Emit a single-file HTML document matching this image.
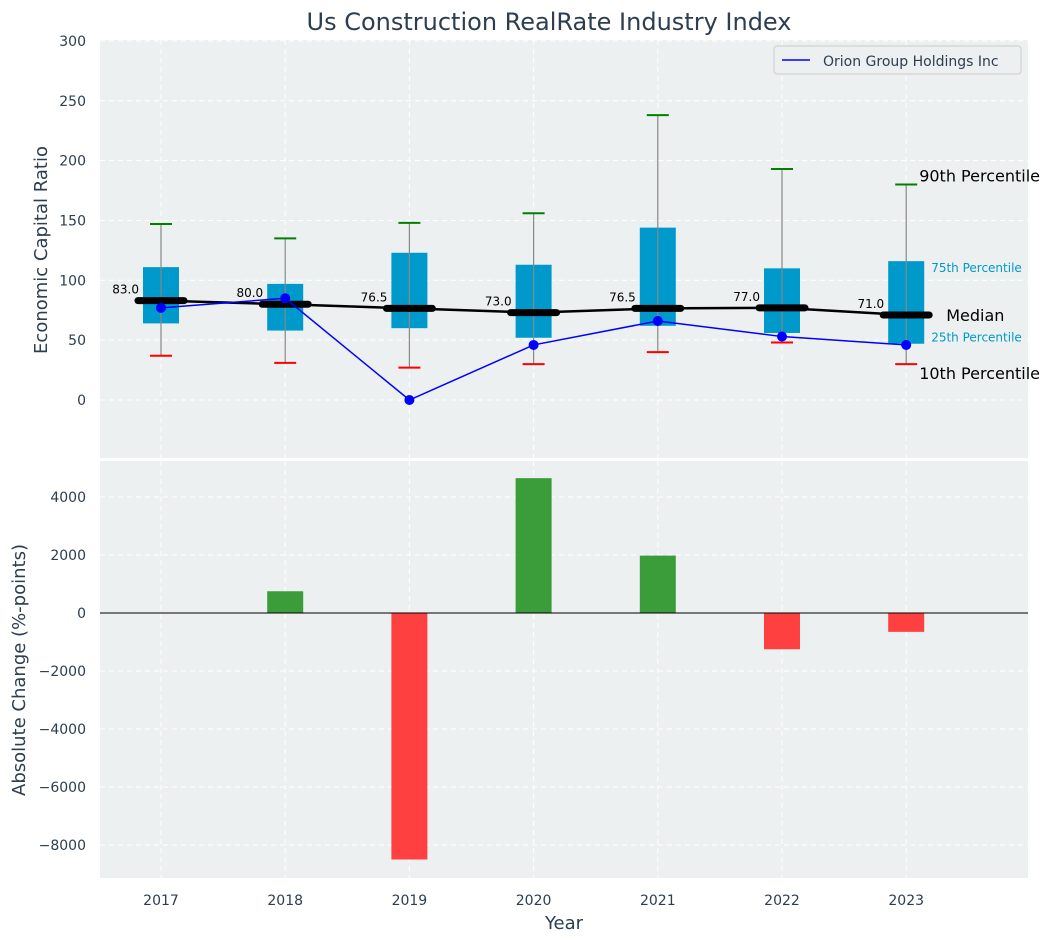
<!DOCTYPE html>
<html><head><meta charset="utf-8"><style>
body{margin:0;background:#fff;}
svg{display:block;font-family:"DejaVu Sans","Liberation Sans",sans-serif;}
</style></head><body>
<svg id="c" width="1054" height="942"></svg>
<script>
const years=[2017,2018,2019,2020,2021,2022,2023];
const q1=[64,58,60,52,62,56,47];
const q3=[111,97,123,113,144,110,116];
const p10=[37,31,27,30,40,48,30];
const p90=[147,135,148,156,238,193,180];
const medians=[83,80,76.5,73,76.5,77,71];
const company=[77,85,0,46,66,53,46];
const changes=[0,750,-8500,4650,1980,-1250,-650];
const yTicksTop=[0,50,100,150,200,250,300];
const yTicksBot=[-8000,-6000,-4000,-2000,0,2000,4000];
const NS='http://www.w3.org/2000/svg';
const svg=document.getElementById('c');
function el(t,a,p){const e=document.createElementNS(NS,t);for(const k in a)e.setAttribute(k,a[k]);(p||svg).appendChild(e);return e;}
const L=100,R=1028;
function x(v){return 161+(v-2017)*124.2;}
const T1=40,B1=458;function y1(v){return 400-v*1.197;}
const T2=461,B2=878;function y2(v){return 613-v*0.029;}
let g=el('rect',{x:L,y:T1,width:R-L,height:B1-T1,fill:'#ecf0f1'});

g=el('rect',{x:L,y:T2,width:R-L,height:B2-T2,fill:'#ecf0f1'});

years.forEach(yr=>{[ [T1,B1],[T2,B2] ].forEach(r=>{el('line',{x1:x(yr),x2:x(yr),y1:r[0],y2:r[1],stroke:'#fff','stroke-dasharray':'5,4','stroke-width':1});});
 const t=el('text',{x:x(yr),y:905,'text-anchor':'middle','font-size':14,fill:'#2c3e50'});t.textContent=yr;
 });
yTicksTop.forEach(v=>{el('line',{x1:L,x2:R,y1:y1(v),y2:y1(v),stroke:'#fff','stroke-dasharray':'5,4'});
 const t=el('text',{x:86,y:y1(v)+5,'text-anchor':'end','font-size':14,fill:'#2c3e50'});t.textContent=v;
 });
yTicksBot.forEach(v=>{el('line',{x1:L,x2:R,y1:y2(v),y2:y2(v),stroke:'#fff','stroke-dasharray':'5,4'});
 const t=el('text',{x:86,y:y2(v)+5,'text-anchor':'end','font-size':14,fill:'#2c3e50'});t.textContent=(v<0?'\u2212'+(-v):v);
 });
years.forEach((yr,i)=>{const cx=x(yr);
 let b=el('rect',{x:cx-18,y:y1(q3[i]),width:36,height:y1(q1[i])-y1(q3[i]),fill:'#0099cc'});
 
 el('line',{x1:cx,x2:cx,y1:y1(p90[i]),y2:y1(p10[i]),stroke:'#888','stroke-width':1.2});
 el('line',{x1:cx-11,x2:cx+11,y1:y1(p90[i]),y2:y1(p90[i]),stroke:'green','stroke-width':2});
 el('line',{x1:cx-11,x2:cx+11,y1:y1(p10[i]),y2:y1(p10[i]),stroke:'red','stroke-width':2});
});
let pts=years.map((yr,i)=>x(yr)+','+y1(medians[i])).join(' ');
g=el('polyline',{points:pts,fill:'none',stroke:'#000','stroke-width':2.5});

years.forEach((yr,i)=>{const cx=x(yr);
 el('line',{x1:cx-23,x2:cx+23,y1:y1(medians[i]),y2:y1(medians[i]),stroke:'#000','stroke-width':7,'stroke-linecap':'round'});
 const t=el('text',{x:cx-22,y:y1(medians[i])-7,'text-anchor':'end','font-size':12,fill:'#000'});t.textContent=medians[i].toFixed(1);
 });
pts=years.map((yr,i)=>x(yr)+','+y1(company[i])).join(' ');
g=el('polyline',{points:pts,fill:'none',stroke:'blue','stroke-width':1.5});

years.forEach((yr,i)=>{const c=el('circle',{cx:x(yr),cy:y1(company[i]),r:5,fill:'blue'});
 });
const li=6,lx=x(years[li]);
[['90th Percentile',lx+13,y1(p90[li])-3,16,'#000'],['75th Percentile',lx+25,y1(q3[li])+11,12,'#0099cc'],
 ['Median',lx+40,y1(medians[li])+6,16,'#000'],['25th Percentile',lx+25,y1(q1[li])-2,12,'#0099cc'],
 ['10th Percentile',lx+13,y1(p10[li])+15,16,'#000']].forEach(a=>{const t=el('text',{x:a[1],y:a[2],'font-size':a[3],fill:a[4]});t.textContent=a[0];
 });
g=el('g',{});
el('rect',{x:774,y:46,width:247,height:28,fill:'#ecf0f1',stroke:'#ccc',rx:3},g);
el('line',{x1:782,x2:810,y1:60,y2:60,stroke:'blue','stroke-width':1.5},g);
let t=el('text',{x:823,y:66,'font-size':14,fill:'#2c3e50'},g);t.textContent='Orion Group Holdings Inc';
years.forEach((yr,i)=>{const v=changes[i];const r=el('rect',{x:x(yr)-18,y:Math.min(y2(v),y2(0)),width:36,height:Math.abs(y2(v)-y2(0)),fill:v>=0?'#3a9d3a':'#ff4040'});
 });
el('line',{x1:L,x2:R,y1:y2(0),y2:y2(0),stroke:'#000','stroke-width':1});
t=el('text',{x:549,y:30,'text-anchor':'middle','font-size':24,fill:'#2c3e50'});t.textContent='Us Construction RealRate Industry Index';

t=el('text',{x:0,y:0,'text-anchor':'middle','font-size':18,fill:'#2c3e50',transform:'translate(47,250) rotate(-90)'});t.textContent='Economic Capital Ratio';

t=el('text',{x:0,y:0,'text-anchor':'middle','font-size':18,fill:'#2c3e50',transform:'translate(25,670) rotate(-90)'});t.textContent='Absolute Change (%-points)';

t=el('text',{x:564,y:929,'text-anchor':'middle','font-size':18,fill:'#2c3e50'});t.textContent='Year';

</script></body></html>
